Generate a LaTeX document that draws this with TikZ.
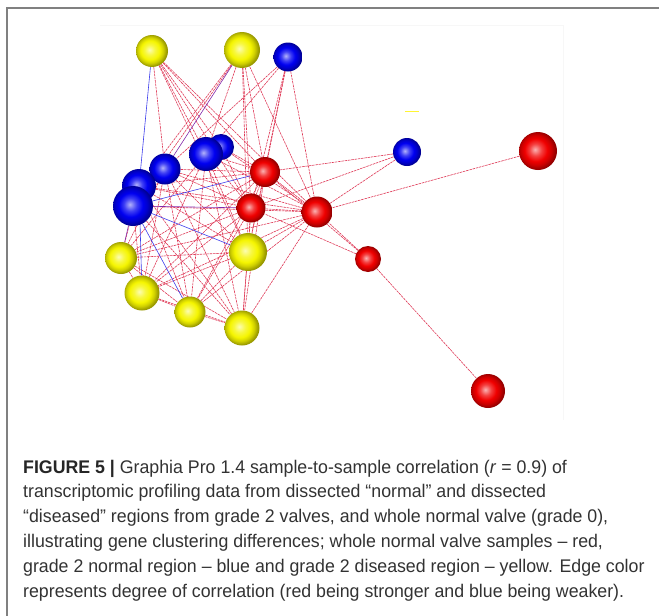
\documentclass[tikz,border=0pt]{standalone}
\usepackage{fontspec}
\setmainfont[FakeStretch=0.97]{Liberation Sans}
\usetikzlibrary{backgrounds}
\definecolor{sred}{RGB}{240,0,0}
\definecolor{sblue}{RGB}{0,0,240}
\definecolor{syel}{RGB}{245,245,0}
\definecolor{ered}{RGB}{222,55,85}
\definecolor{eblue}{RGB}{60,60,235}
\definecolor{epurp}{RGB}{130,40,170}
\definecolor{captxt}{RGB}{50,50,50}
\makeatletter
\pgfdeclareradialshading[tikz@ball]{softball}{\pgfqpoint{-4bp}{2bp}}{%
  color(0bp)=(tikz@ball!30!white);
  color(8bp)=(tikz@ball!75!white);
  color(15bp)=(tikz@ball);
  color(20bp)=(tikz@ball!85!black);
  color(25bp)=(tikz@ball!62!black);
  color(50bp)=(tikz@ball!50!black)}
\makeatother
\tikzset{
  sph/.style={circle, inner sep=0pt, minimum size=#1},
  redb/.style={sph=#1, ball color=sred, shading=softball},
  blueb/.style={sph=#1, ball color=sblue, shading=softball},
  yelb/.style={sph=#1, ball color=syel, shading=softball},
  edge/.style={draw=ered, line width=0.6pt, dash pattern=on 2.5pt off 0.8pt},
  bedge/.style={draw=eblue, line width=0.6pt},
  pedge/.style={draw=epurp, line width=0.6pt},
  capline/.style={anchor=base west, inner sep=0pt, text=captxt, font=\fontsize{18.3}{24}\selectfont},
}
\begin{document}
\begin{tikzpicture}[x=1pt, y=-1pt]
\useasboundingbox (0,0) rectangle (659,616);
% frame
\draw[gray, line width=1.6pt] (7,616) -- (7,8) -- (659,8);
% faint plot border
\draw[black!3, line width=0.6pt] (100,25) -- (563,25) -- (563,420);
% tiny yellow mark
\draw[yellow!80, line width=1pt] (405,111) -- (419,111);

% spheres (back to front)
\node[yelb=32pt] (y1) at (152,51) {};
\node[yelb=36pt] (y2) at (242,50) {};
\node[blueb=29pt] (b1) at (288,57) {};
\node[blueb=26pt] (b2) at (221,147) {};
\node[blueb=34pt] (b3) at (206,154) {};
\node[blueb=31pt] (b4) at (165,169) {};
\node[blueb=34pt] (b5) at (139,186) {};
\node[blueb=40pt] (b6) at (133,206) {};
\node[redb=30pt] (r1) at (265,172) {};
\node[redb=29pt] (r2) at (251,208) {};
\node[redb=31pt] (r3) at (317,212) {};
\node[blueb=28pt] (b7) at (407,152) {};
\node[redb=38pt] (r4) at (538,151) {};
\node[redb=26pt] (r5) at (368,259) {};
\node[redb=34pt] (r6) at (488,391) {};
\node[yelb=32pt] (y3) at (121,258) {};
\node[yelb=38pt] (y4) at (248,252) {};
\node[yelb=35pt] (y5) at (142,293) {};
\node[yelb=31pt] (y6) at (190,312) {};
\node[yelb=35pt] (y7) at (242,328) {};

\begin{scope}[on background layer]
\foreach \s/\tl in {
  y1/{b4,b3,b2,r1,r3,r2,y4},
  y2/{b5,b3,r1,r2,r3,y4,b6},
  b1/{b4,b3,r1,r2,r3,y4},
  b2/{r1,r3,r2},
  b3/{r1,r2,r3,y3,y4,y5,y6,y7},
  b4/{r1,r2,r3,y3,y4,y5,y6,y7},
  b5/{r1,r2,r3,y3,y4,y6,y7},
  b6/{r3,y5,y7},
  r1/{r2,r3,y3,y4,y5,y6,y7},
  r2/{r3,y3,y4,y5,y6,y7},
  r3/{y3,y4,y5,y6,y7},
  y3/{y4,y5,y6,y7},
  y4/{y5,y6,y7},
  y5/{y6,y7},
  y6/{y7},
  b7/{r1,r2,r3},
  r4/{r3},
  r5/{r3,r2,r1,r6}}
  \foreach \t in \tl {\draw[edge] (\s) -- (\t);}
\foreach \s/\t in {y1/b5, b6/y4, b6/y6, b6/r1, b5/y5}
  \draw[bedge] (\s) -- (\t);
\foreach \s/\t in {y2/b4, b6/r2, b6/y3}
  \draw[pedge] (\s) -- (\t);
\end{scope}

% caption
\node[capline] (cap1) at (23,473) {\textbf{\color{black!85}FIGURE 5 |} Graphia Pro 1.4 sample-to-sample correlation (\textit{r} = 0.9) of};
\node[capline] (cap2) at (23,497.8) {transcriptomic profiling data from dissected “normal” and dissected};
\node[capline] (cap3) at (23,522.6) {“diseased” regions from grade 2 valves, and whole normal valve (grade 0),};
\node[capline] (cap4) at (23,547.4) {illustrating gene clustering differences; whole normal valve samples – red,};
\node[capline] (cap5) at (23,572.2) {grade 2 normal region – blue and grade 2 diseased region – yellow. Edge color};
\node[capline] (cap6) at (23,597) {represents degree of correlation (red being stronger and blue being weaker).};
\end{tikzpicture}
\end{document}
